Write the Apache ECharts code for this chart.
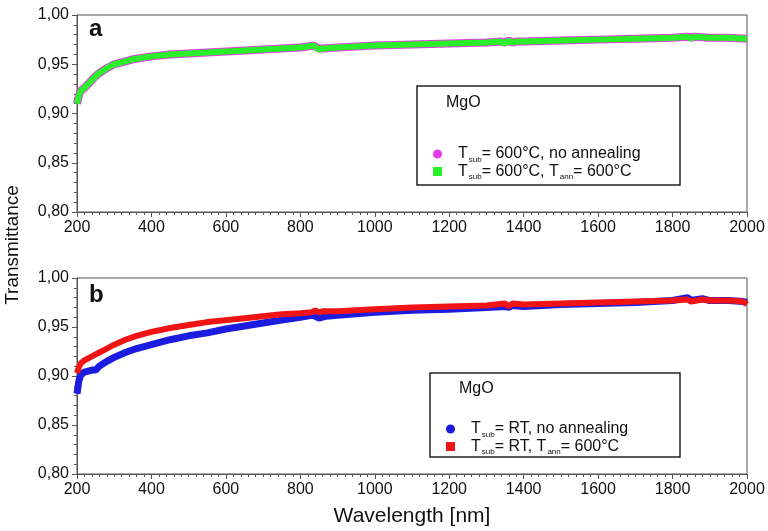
<!DOCTYPE html>
<html>
<head>
<meta charset="utf-8">
<script src="https://cdn.jsdelivr.net/npm/echarts@6/dist/echarts.min.js"></script>
<style>
    html, body { margin: 0; padding: 0; background: #fff; }
    #chart { width: 768px; height: 531px; }
</style>
</head>
<body>
<div id="chart"></div>
<script>
// panel a: T_sub = 600 C
var aWave = [200, 205, 210, 220, 230, 240, 250, 260, 280, 300, 320, 350, 400, 450, 500, 550, 600, 650, 700, 750,
    800, 820, 835, 850, 860, 900, 1000, 1100, 1200, 1300, 1340, 1350, 1360, 1370, 1380, 1400, 1500, 1600, 1700, 1800,
    1840, 1850, 1860, 1900, 1950, 2000];
var aNoAnneal = [0.910, 0.918, 0.923, 0.926, 0.930, 0.934, 0.938, 0.941, 0.946, 0.950, 0.952, 0.955, 0.958, 0.960, 0.961, 0.962, 0.963, 0.964, 0.965, 0.966,
    0.967, 0.968, 0.969, 0.966, 0.966, 0.967, 0.969, 0.970, 0.971, 0.972, 0.973, 0.972, 0.974, 0.972, 0.973, 0.973, 0.974, 0.975, 0.976, 0.977,
    0.978, 0.977, 0.978, 0.977, 0.977, 0.976];
var aAnneal = [0.910, 0.918, 0.923, 0.926, 0.930, 0.934, 0.938, 0.941, 0.946, 0.950, 0.952, 0.955, 0.958, 0.960, 0.961, 0.962, 0.963, 0.964, 0.965, 0.966,
    0.967, 0.968, 0.969, 0.965, 0.966, 0.967, 0.969, 0.970, 0.971, 0.972, 0.973, 0.971, 0.974, 0.972, 0.973, 0.973, 0.974, 0.975, 0.976, 0.977,
    0.978, 0.976, 0.978, 0.977, 0.977, 0.976];

// panel b: T_sub = RT
var bWave = [200, 205, 210, 220, 240, 250, 260, 280, 300, 330, 360, 400, 450, 500, 550, 600, 650, 700, 750, 800,
    830, 840, 850, 860, 870, 900, 1000, 1100, 1200, 1300, 1350, 1360, 1370, 1400, 1500, 1600, 1700, 1800, 1840, 1850,
    1880, 1900, 1950, 1990, 2000];
var bNoAnneal = [0.882, 0.895, 0.901, 0.904, 0.906, 0.906, 0.910, 0.915, 0.919, 0.924, 0.928, 0.932, 0.937, 0.941, 0.944, 0.948, 0.951, 0.954, 0.957, 0.960,
    0.962, 0.961, 0.959, 0.960, 0.961, 0.962, 0.965, 0.967, 0.968, 0.970, 0.971, 0.970, 0.972, 0.971, 0.973, 0.974, 0.975, 0.977, 0.980, 0.977,
    0.979, 0.977, 0.977, 0.976, 0.975];
var bAnneal = [0.903, 0.909, 0.913, 0.916, 0.920, 0.922, 0.924, 0.928, 0.932, 0.937, 0.941, 0.945, 0.949, 0.952, 0.955, 0.957, 0.959, 0.961, 0.963, 0.964,
    0.965, 0.967, 0.965, 0.966, 0.966, 0.966, 0.968, 0.970, 0.971, 0.972, 0.974, 0.971, 0.974, 0.973, 0.974, 0.975, 0.976, 0.977, 0.978, 0.976,
    0.978, 0.977, 0.977, 0.976, 0.973];

var yTicks = [0.80, 0.85, 0.90, 0.95, 1.00];
var xTicks = [200, 400, 600, 800, 1000, 1200, 1400, 1600, 1800, 2000];

var FONT = '"Liberation Sans", Arial, sans-serif';
var AXIS_COLOR = '#555';

// legend labels with subscripts ({g|} is the gap after the marker)
var legendText = {
    'a no annealing': '{g|}{t|T}{s|sub}{t|= 600°C, no annealing}',
    'a annealed': '{g|}{t|T}{s|sub}{t|= 600°C, T}{s|ann}{t|= 600°C}',
    'b no annealing': '{g|}{t|T}{s|sub}{t|= RT, no annealing}',
    'b annealed': '{g|}{t|T}{s|sub}{t|= RT, T}{s|ann}{t|= 600°C}'
};
var richStyle = {
    g: {width: 11},
    t: {fontSize: 16, fontFamily: FONT, color: '#111', lineHeight: 19},
    s: {fontSize: 8, fontFamily: FONT, color: '#111', verticalAlign: 'bottom', lineHeight: 19, padding: [7, 0, 0, 1]}
};

function pairs(xs, ys) {
    return xs.map(function (x, i) { return [x, ys[i]]; });
}

function makeXAxis(idx, withName) {
    var ax = {
        type: 'value',
        gridIndex: idx,
        min: xTicks[0],
        max: xTicks[xTicks.length - 1],
        interval: 200,
        axisLine: {show: true, lineStyle: {color: AXIS_COLOR, width: 1}},
        axisTick: {show: true, length: 5, lineStyle: {color: AXIS_COLOR}},
        minorTick: {show: true, splitNumber: 10, length: 3, lineStyle: {color: AXIS_COLOR}},
        splitLine: {show: false},
        axisLabel: {
            fontFamily: FONT, fontSize: 16, color: '#111', margin: 8,
            formatter: function (v) { return String(v); }
        }
    };
    if (withName) {
        ax.name = 'Wavelength [nm]';
        ax.nameLocation = 'middle';
        ax.nameGap = 32;
        ax.nameTextStyle = {fontFamily: FONT, fontSize: 21, color: '#111'};
    }
    return ax;
}

function makeYAxis(idx) {
    return {
        type: 'value',
        gridIndex: idx,
        min: yTicks[0],
        max: yTicks[yTicks.length - 1],
        interval: 0.05,
        axisLine: {show: true, lineStyle: {color: AXIS_COLOR, width: 1}},
        axisTick: {show: true, length: 5, lineStyle: {color: AXIS_COLOR}},
        minorTick: {show: true, splitNumber: 5, length: 3, lineStyle: {color: AXIS_COLOR}},
        splitLine: {show: false},
        axisLabel: {
            fontFamily: FONT, fontSize: 16, color: '#111', margin: 8,
            formatter: function (v) { return v.toFixed(2).replace('.', ','); }
        }
    };
}

function makeLine(name, idx, xs, ys, color, width) {
    return {
        name: name,
        type: 'line',
        xAxisIndex: idx,
        yAxisIndex: idx,
        data: pairs(xs, ys),
        showSymbol: false,
        color: color,
        lineStyle: {color: color, width: width},
        z: 2
    };
}

function makeLegend(top, left, names, icons) {
    return {
        orient: 'vertical',
        top: top,
        left: left,
        itemGap: 0,
        itemWidth: 9,
        itemHeight: 9,
        selectedMode: false,
        z: 20,
        data: names.map(function (n, i) { return {name: n, icon: icons[i]}; }),
        formatter: function (n) { return legendText[n]; },
        textStyle: {rich: richStyle}
    };
}

var chart = echarts.init(document.getElementById('chart'));
chart.setOption({
    animation: false,
    backgroundColor: '#fff',
    grid: [
        {left: 77, top: 15, width: 670, height: 197, show: true, borderColor: AXIS_COLOR, borderWidth: 1},
        {left: 77, top: 278, width: 670, height: 196, show: true, borderColor: AXIS_COLOR, borderWidth: 1}
    ],
    xAxis: [makeXAxis(0, false), makeXAxis(1, true)],
    yAxis: [makeYAxis(0), makeYAxis(1)],
    legend: [
        makeLegend(141, 428, ['a no annealing', 'a annealed'], ['circle', 'rect']),
        makeLegend(416, 441, ['b no annealing', 'b annealed'], ['circle', 'rect'])
    ],
    graphic: [
        {type: 'text', left: 89, top: 17, style: {text: 'a', font: 'bold 24px ' + FONT, fill: '#111'}},
        {type: 'text', left: 89, top: 283, style: {text: 'b', font: 'bold 24px ' + FONT, fill: '#111'}},
        {type: 'text', x: 3, y: 245, rotation: Math.PI / 2,
            style: {text: 'Transmittance', font: '19px ' + FONT, fill: '#111', align: 'center', verticalAlign: 'top'}},
        {type: 'rect', z: 1, shape: {x: 417, y: 86, width: 263, height: 99}, style: {fill: '#fff', stroke: '#222', lineWidth: 1.5}},
        {type: 'text', z: 1, left: 446, top: 95, style: {text: 'MgO', font: '16px ' + FONT, fill: '#111'}},
        {type: 'rect', z: 1, shape: {x: 430, y: 373, width: 250, height: 84}, style: {fill: '#fff', stroke: '#222', lineWidth: 1.5}},
        {type: 'text', z: 1, left: 459, top: 381, style: {text: 'MgO', font: '16px ' + FONT, fill: '#111'}}
    ],
    series: [
        makeLine('a no annealing', 0, aWave, aNoAnneal, '#e23ce2', 8),
        makeLine('a annealed', 0, aWave, aAnneal, '#2af02a', 6),
        makeLine('b no annealing', 1, bWave, bNoAnneal, '#1c1ce0', 7),
        makeLine('b annealed', 1, bWave, bAnneal, '#f01414', 6)
    ]
});
</script>
</body>
</html>
